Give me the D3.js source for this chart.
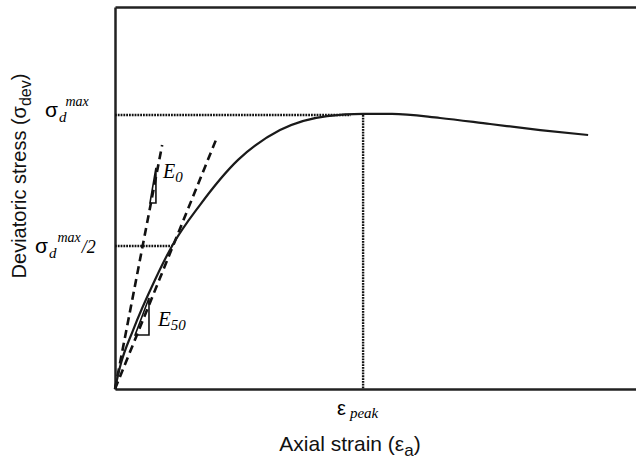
<!DOCTYPE html>
<html>
<head>
<meta charset="utf-8">
<script src="https://cdn.jsdelivr.net/npm/d3@7"></script>
<style>
  html, body { margin: 0; padding: 0; background: #fff; }
  .sans { font-family: "Liberation Sans", Arial, sans-serif; }
  .serif { font-family: "Liberation Serif", "Times New Roman", serif; font-style: italic; }
</style>
</head>
<body>
<span></span>
<script>
let width = 636;
let height = 462;

// stress-strain curve (strain / strain_peak, stress / stress_max)
let strain = [0, 0.02, 0.073, 0.161, 0.23, 0.343, 0.496, 0.665, 0.855, 1.0, 1.117, 1.31, 1.512, 1.714, 1.907];
let stress = [0, 0.08, 0.215, 0.398, 0.522, 0.672, 0.836, 0.945, 0.996, 1.004, 1.004, 0.989, 0.967, 0.945, 0.927];

// reference levels
let peakStrain = 1.0;
let peakStress = 1.0;
let halfStress = 0.522;

// tangent (E0) and secant (E50) lines, start and end points
let e0Line = [[0, 0], [0.19, 0.89]];
let e50Line = [[0, 0], [0.407, 0.909]];

// little slope triangles
let e0Tri = [[0.141, 0.679], [0.165, 0.679], [0.165, 0.807]];
let e50Tri = [[0.081, 0.197], [0.137, 0.197], [0.137, 0.332]];

let svg = d3.select("span")
    .append("svg")
    .attr("width", width)
    .attr("height", height);

let x = d3.scaleLinear().domain([0, 2.1]).range([115, 636]);
let y = d3.scaleLinear().domain([0, 1.394]).range([389, 7]);

// frame: left, bottom, top (no right side)
function frame(axis, tx, ty) {
    let g = svg.append("g")
        .attr("transform", `translate(${tx},${ty})`)
        .call(axis.ticks(0).tickSizeOuter(0));
    g.select(".domain").attr("stroke", "#222").attr("stroke-width", 2.5);
    g.selectAll("text").remove();
}
frame(d3.axisLeft(y), x(0), 0);
frame(d3.axisBottom(x), 0, y(0));
frame(d3.axisTop(x), 0, y.range()[1]);

// dotted guide lines
let dotted = svg.append("g")
    .attr("stroke", "#111")
    .attr("stroke-width", 2.4)
    .attr("stroke-dasharray", "1.8,1");

dotted.append("line")
    .attr("x1", x(0)).attr("y1", y(peakStress))
    .attr("x2", x(0.95)).attr("y2", y(peakStress));
dotted.append("line")
    .attr("x1", x(peakStrain)).attr("y1", y(peakStress))
    .attr("x2", x(peakStrain)).attr("y2", y(0));
dotted.append("line")
    .attr("x1", x(0)).attr("y1", y(halfStress))
    .attr("x2", x(0.23)).attr("y2", y(halfStress));

// E0 and E50 dashed lines
let line = d3.line().x(d => x(d[0])).y(d => y(d[1]));

[e0Line, e50Line].forEach(function (l) {
    svg.append("path")
        .attr("d", line(l))
        .attr("fill", "none")
        .attr("stroke", "#111")
        .attr("stroke-width", 2.6)
        .attr("stroke-dasharray", "8,5");
});

// main curve
let curve = d3.line()
    .x((d, i) => x(strain[i]))
    .y((d, i) => y(stress[i]))
    .curve(d3.curveMonotoneX);

svg.append("path")
    .attr("d", curve(strain))
    .attr("fill", "none")
    .attr("stroke", "#1a1a1a")
    .attr("stroke-width", 2.2);

// triangles
[e0Tri, e50Tri].forEach(function (t) {
    svg.append("path")
        .attr("d", line(t) + "Z")
        .attr("fill", "none")
        .attr("stroke", "#111")
        .attr("stroke-width", 1.6);
});

// E0 label
let e0 = svg.append("text").attr("class", "serif")
    .attr("x", 163).attr("y", 178).attr("font-size", 20);
e0.append("tspan").text("E");
e0.append("tspan").attr("font-size", 15).attr("dy", 4).text("0");

// E50 label
let e50 = svg.append("text").attr("class", "serif")
    .attr("x", 158).attr("y", 326).attr("font-size", 21);
e50.append("tspan").text("E");
e50.append("tspan").attr("font-size", 15).attr("dy", 4).text("50");

// y tick labels
let sTop = svg.append("text").attr("x", 45).attr("y", y(peakStress) + 2);
sTop.append("tspan").attr("class", "sans").attr("font-size", 21).text("σ");
sTop.append("tspan").attr("class", "serif").attr("font-size", 15).attr("dx", 1).attr("dy", 5).text("d");
sTop.append("tspan").attr("class", "serif").attr("font-size", 14).attr("dx", -1).attr("dy", -16).text("max");

let sHalf = svg.append("text").attr("x", 35).attr("y", y(halfStress) + 7);
sHalf.append("tspan").attr("class", "sans").attr("font-size", 21).text("σ");
sHalf.append("tspan").attr("class", "serif").attr("font-size", 15).attr("dx", 1).attr("dy", 5).text("d");
sHalf.append("tspan").attr("class", "serif").attr("font-size", 14).attr("dx", 1).attr("dy", -16).text("max");
sHalf.append("tspan").attr("class", "serif").attr("font-size", 18).attr("dx", 1).attr("dy", 11).text("/2");

// x tick label
let ePeak = svg.append("text").attr("x", 337).attr("y", 415);
ePeak.append("tspan").attr("class", "sans").attr("font-size", 20).text("ε");
ePeak.append("tspan").attr("class", "serif").attr("font-size", 15).attr("dx", 4).attr("dy", 3).text("peak");

// axis titles
let xt = svg.append("text").attr("class", "sans")
    .attr("x", 350).attr("y", 451)
    .attr("text-anchor", "middle")
    .attr("font-size", 21)
    .attr("fill", "#111");
xt.append("tspan").text("Axial strain (ε");
xt.append("tspan").attr("font-size", 17).attr("dy", 5).text("a");
xt.append("tspan").attr("dy", -5).text(")");

let yt = svg.append("text").attr("class", "sans")
    .attr("transform", "translate(26,176) rotate(-90)")
    .attr("text-anchor", "middle")
    .attr("font-size", 20)
    .attr("fill", "#111");
yt.append("tspan").text("Deviatoric stress (σ");
yt.append("tspan").attr("font-size", 16).attr("dy", 5).text("dev");
yt.append("tspan").attr("dy", -5).text(")");
</script>
</body>
</html>
